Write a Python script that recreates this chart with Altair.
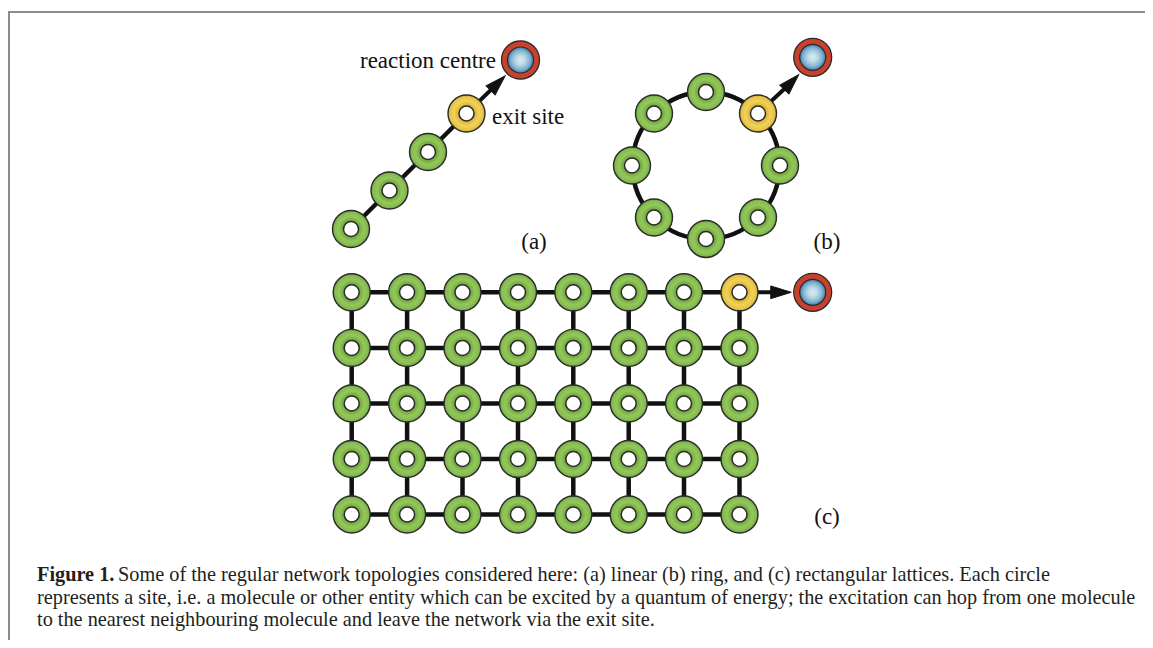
import altair as alt
import pandas as pd

# ---------------- data (positions in figure pixel units) ----------------
# (a) linear chain: sites from lower-left up to the exit site (last)
lin_x = [351, 389.5, 428, 466.5]
lin_y = [229, 190.5, 152, 113.5]
lin_rc = [520.5, 60]

# (b) ring of 8 sites; exit site is the last one (upper right)
ring_x = [706, 654, 632, 654, 706, 758, 780, 758]
ring_y = [92, 113.5, 165.5, 217.5, 239, 217.5, 165.5, 113.5]
ring_centre = [706, 165.5]
ring_radius = 73.5
ring_rc = [812.7, 57.3]

# (c) rectangular lattice, exit site at top-right
lat_cols = [351.7, 407.1, 462.5, 518, 573.3, 628.7, 684, 739.5]
lat_rows = [292.3, 347.9, 403.5, 459, 514.5]
lat_rc = [812.7, 292.3]

# arrowheads: centre x, centre y, direction angle
arrow_x = [497.9, 791.5, 781.0]
arrow_y = [83.1, 82.2, 292.3]
arrow_ang = [45, 44, 90]

label_text = ["(a)", "(b)", "(c)"]
label_x = [534, 827, 827]
label_y = [242, 242, 517]

caption_bold = "Figure 1."
caption_lines = [
    "Some of the regular network topologies considered here: (a) linear (b) ring, and (c) rectangular lattices. Each circle",
    "represents a site, i.e. a molecule or other entity which can be excited by a quantum of energy; the excitation can hop from one molecule",
    "to the nearest neighbouring molecule and leave the network via the exit site.",
]
caption_x = [118, 37, 37]
caption_y = [575, 597.5, 619.5]

# ---------------- derived tables ----------------
W, H = 1137, 632
xs = alt.Scale(domain=[8, 8 + W], nice=False, zero=False)
ys = alt.Scale(domain=[8, 8 + H], nice=False, zero=False, reverse=True)


def X(f):
    return alt.X(f, type="quantitative", scale=xs, axis=None)


def Y(f):
    return alt.Y(f, type="quantitative", scale=ys, axis=None)


def X2(f):
    return alt.X2(f)


def Y2(f):
    return alt.Y2(f)


# segments
segs = []
for i in range(len(lin_x) - 1):
    segs.append(dict(x=lin_x[i], y=lin_y[i], x2=lin_x[i + 1], y2=lin_y[i + 1]))
for r in lat_rows:
    segs.append(dict(x=lat_cols[0], y=r, x2=lat_cols[-1], y2=r))
for c in lat_cols:
    segs.append(dict(x=c, y=lat_rows[0], x2=c, y2=lat_rows[-1]))
segs_df = pd.DataFrame(segs)

exits = [(lin_x[-1], lin_y[-1]), (ring_x[-1], ring_y[-1]), (lat_cols[-1], lat_rows[0])]
shaft_df = pd.DataFrame(
    [dict(x=e[0], y=e[1], x2=ax, y2=ay) for e, ax, ay in zip(exits, arrow_x, arrow_y)]
)
head_df = pd.DataFrame(dict(x=arrow_x, y=arrow_y, ang=arrow_ang))

green, yellow = [], []
for i, (x, y) in enumerate(zip(lin_x, lin_y)):
    (yellow if i == len(lin_x) - 1 else green).append(dict(x=x, y=y))
for i, (x, y) in enumerate(zip(ring_x, ring_y)):
    (yellow if i == len(ring_x) - 1 else green).append(dict(x=x, y=y))
for ri, r in enumerate(lat_rows):
    for ci, c in enumerate(lat_cols):
        (yellow if (ri == 0 and ci == len(lat_cols) - 1) else green).append(dict(x=c, y=r))
green_df = pd.DataFrame(green)
yellow_df = pd.DataFrame(yellow)
sites_df = pd.concat([green_df, yellow_df], ignore_index=True)
rc_df = pd.DataFrame(dict(x=[lin_rc[0], ring_rc[0], lat_rc[0]], y=[lin_rc[1], ring_rc[1], lat_rc[1]]))
ring_df = pd.DataFrame(dict(x=[ring_centre[0]], y=[ring_centre[1]]))

frame_df = pd.DataFrame(
    [dict(x=8, y=12, x2=8 + W, y2=12), dict(x=9, y=12, x2=9, y2=8 + H)]
)

lab_df = pd.DataFrame(dict(x=label_x, y=label_y, t=label_text))
cap_df = pd.DataFrame(dict(x=caption_x, y=caption_y, t=caption_lines))
capb_df = pd.DataFrame(dict(x=[37], y=[caption_y[0]], t=[caption_bold]))
rc_lbl_df = pd.DataFrame(dict(x=[496], y=[61], t=["reaction centre"]))
exit_lbl_df = pd.DataFrame(dict(x=[492], y=[117], t=["exit site"]))


# ---------------- styles ----------------
def radial(stops):
    return {
        "gradient": "radial",
        "x1": 0.5, "y1": 0.5, "r1": 0,
        "x2": 0.5, "y2": 0.5, "r2": 0.5,
        "stops": [{"offset": o, "color": c} for o, c in stops],
    }


green_fill = radial([(0, "#7fb449"), (0.42, "#6fa33c"), (0.68, "#93c85c"), (0.9, "#84bb4f"), (1, "#6b9c3b")])
yellow_fill = radial([(0, "#e2bd3c"), (0.42, "#d9b132"), (0.68, "#f0d25a"), (0.9, "#e6c445"), (1, "#c9a22c")])
blue_fill = radial([(0, "#dcedf3"), (0.35, "#bcdbe8"), (0.75, "#7fb1cf"), (1, "#3f7ba8")])

SERIF = "Liberation Serif"
CAP_SIZE = 20.3
SITE = 37 ** 2
HOLE = 15 ** 2
RC_OUT = 38 ** 2
RC_IN = 26 ** 2

frame = alt.Chart(frame_df).mark_rule(color="#8c8c8c", strokeWidth=2).encode(
    x=X("x"), y=Y("y"), x2=X2("x2"), y2=Y2("y2"))
bonds = alt.Chart(segs_df).mark_rule(color="#111111", strokeWidth=4.5).encode(
    x=X("x"), y=Y("y"), x2=X2("x2"), y2=Y2("y2"))
ring = alt.Chart(ring_df).mark_point(
    shape="circle", filled=False, stroke="#111111", strokeWidth=4.5, opacity=1,
    size=(2 * ring_radius) ** 2).encode(x=X("x"), y=Y("y"))
shafts = alt.Chart(shaft_df).mark_rule(color="#111111", strokeWidth=4).encode(
    x=X("x"), y=Y("y"), x2=X2("x2"), y2=Y2("y2"))
heads = alt.Chart(head_df).mark_point(
    shape="M0,-1L0.62,1L-0.62,1Z", filled=True, fill="#111111", stroke="#111111",
    strokeWidth=1, opacity=1, size=420).encode(
    x=X("x"), y=Y("y"), angle=alt.Angle("ang:Q", scale=None))

g_sites = alt.Chart(green_df).mark_point(
    shape="circle", filled=True, fill=green_fill, stroke="#2b2b2b", strokeWidth=1.4,
    opacity=1, size=SITE).encode(x=X("x"), y=Y("y"))
y_sites = alt.Chart(yellow_df).mark_point(
    shape="circle", filled=True, fill=yellow_fill, stroke="#2b2b2b", strokeWidth=1.4,
    opacity=1, size=SITE).encode(x=X("x"), y=Y("y"))
holes = alt.Chart(sites_df).mark_point(
    shape="circle", filled=True, fill="#ffffff", stroke="#2b2b2b", strokeWidth=1.5,
    opacity=1, size=HOLE).encode(x=X("x"), y=Y("y"))
rc_out = alt.Chart(rc_df).mark_point(
    shape="circle", filled=True, fill="#c9412d", stroke="#2b2b2b", strokeWidth=1.3,
    opacity=1, size=RC_OUT).encode(x=X("x"), y=Y("y"))
rc_in = alt.Chart(rc_df).mark_point(
    shape="circle", filled=True, fill=blue_fill, stroke="#2b2b2b", strokeWidth=1.2,
    opacity=1, size=RC_IN).encode(x=X("x"), y=Y("y"))

labels = alt.Chart(lab_df).mark_text(
    font=SERIF, fontSize=23, color="#111111", align="center", baseline="middle").encode(
    x=X("x"), y=Y("y"), text="t:N")
rc_lbl = alt.Chart(rc_lbl_df).mark_text(
    font=SERIF, fontSize=23, color="#111111", align="right", baseline="middle").encode(
    x=X("x"), y=Y("y"), text="t:N")
exit_lbl = alt.Chart(exit_lbl_df).mark_text(
    font=SERIF, fontSize=23, color="#111111", align="left", baseline="middle").encode(
    x=X("x"), y=Y("y"), text="t:N")
cap_b = alt.Chart(capb_df).mark_text(
    font=SERIF, fontSize=CAP_SIZE, fontWeight="bold", color="#231f20", align="left",
    baseline="middle").encode(x=X("x"), y=Y("y"), text="t:N")
cap = alt.Chart(cap_df).mark_text(
    font=SERIF, fontSize=CAP_SIZE, color="#231f20", align="left", baseline="middle").encode(
    x=X("x"), y=Y("y"), text="t:N")

chart = alt.layer(
    frame, bonds, ring, shafts, heads, g_sites, y_sites, holes, rc_out, rc_in,
    labels, rc_lbl, exit_lbl, cap_b, cap,
).properties(
    width=W, height=H, padding=0, autosize=alt.AutoSizeParams(type="none"),
    background="#ffffff",
).configure_view(stroke=None)

chart.save("out.html", embed_options={"renderer": "svg", "actions": False})
